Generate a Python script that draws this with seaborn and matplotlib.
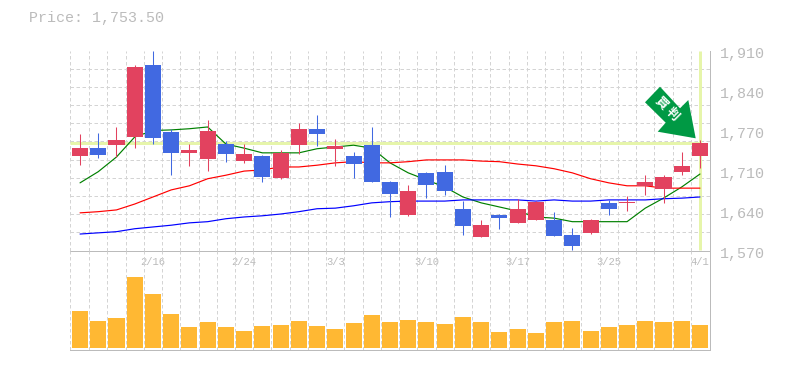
"""Stock candlestick chart with moving averages and a volume panel."""

import numpy as np
import matplotlib
matplotlib.use("Agg")
import matplotlib.pyplot as plt
from matplotlib.patches import Polygon
from matplotlib.transforms import ScaledTranslation
import seaborn as sns

# ── Data ──────────────────────────────────────────────────────────────────────

last_price = 1753.5

opens = [1731, 1744, 1750, 1763, 1885, 1772, 1736, 1726, 1751, 1722, 1731, 1693,
         1750, 1777, 1743, 1731, 1750, 1687, 1631, 1702, 1704, 1641, 1593, 1630,
         1617, 1622, 1622, 1596, 1600, 1651, 1651, 1680, 1675, 1704, 1731]
highs = [1768, 1770, 1780, 1885, 1909, 1777, 1751, 1792, 1756, 1751, 1732, 1741,
         1787, 1800, 1760, 1738, 1780, 1688, 1681, 1704, 1715, 1654, 1622, 1632,
         1658, 1654, 1636, 1608, 1624, 1656, 1663, 1698, 1698, 1738, 1758]
lows = [1716, 1727, 1729, 1744, 1751, 1698, 1714, 1705, 1721, 1719, 1687, 1692,
        1734, 1748, 1714, 1693, 1687, 1627, 1629, 1659, 1664, 1596, 1593, 1607,
        1617, 1622, 1595, 1571, 1598, 1630, 1637, 1664, 1651, 1698, 1710]
closes = [1744, 1733, 1758, 1882, 1761, 1736, 1741, 1773, 1734, 1734, 1695, 1736,
          1777, 1768, 1748, 1717, 1687, 1666, 1671, 1681, 1671, 1612, 1613, 1625,
          1641, 1653, 1595, 1578, 1622, 1641, 1653, 1687, 1695, 1714, 1753.5]

ma_short = [1685, 1704, 1729, 1763, 1774, 1775, 1777, 1780, 1751, 1744, 1736, 1736,
            1736, 1743, 1746, 1749, 1744, 1719, 1702, 1690, 1678, 1661, 1651, 1644,
            1637, 1627, 1625, 1619, 1619, 1619, 1619, 1642, 1659, 1678, 1700]
ma_mid = [1634, 1636, 1639, 1649, 1661, 1673, 1680, 1692, 1698, 1705, 1707, 1712,
          1712, 1715, 1719, 1721, 1719, 1719, 1721, 1724, 1724, 1724, 1722, 1721,
          1717, 1714, 1709, 1702, 1692, 1685, 1680, 1680, 1676, 1676, 1676]
ma_long = [1598, 1600, 1602, 1607, 1610, 1613, 1617, 1619, 1624, 1627, 1629, 1632,
           1636, 1641, 1642, 1646, 1651, 1653, 1654, 1654, 1654, 1656, 1656, 1656,
           1656, 1654, 1656, 1654, 1654, 1656, 1656, 1656, 1658, 1659, 1661]

volume = [111, 81, 90, 213, 162, 102, 63, 78, 63, 51, 66, 69, 81, 66, 57, 75, 99,
          78, 84, 78, 72, 93, 78, 48, 57, 45, 78, 81, 51, 63, 69, 81, 78, 81, 69]

date_labels = ["2/16", "2/24", "3/3", "3/10", "3/17", "3/25", "4/1"]
date_positions = [4, 9, 14, 19, 24, 29, 34]
price_ticks = [1910, 1842, 1774, 1706, 1638, 1570]
price_labels = ["1,910", "1,840", "1,770", "1,710", "1,640", "1,570"]
badge_text = ["買", "判"]

# ── Style ─────────────────────────────────────────────────────────────────────

W, H = 785, 370
GREY = "#bbbbbb"
GRID = "#d4d4d4"
UP = "#e2425f"
DOWN = "#4169e1"
AMBER = "#ffb833"
HILITE = "#e6f5aa"
BADGE = "#009944"
MONO = "Liberation Mono"
PX = 0.72  # one pixel in points at dpi 100
DASH = (0, (3.5, 2.5))

sns.set_theme(style="white")
plt.rcParams["font.family"] = [MONO, "Noto Sans CJK JP", "DejaVu Sans"]


def _axes_box(left, top, right, bottom):
    return [left / W, 1 - bottom / H, (right - left) / W, (bottom - top) / H]


def _fig_xy(x, y):
    return x / W, 1 - y / H


days = np.arange(len(closes))
xlim = (-0.55, 34.55)
col_edges = np.arange(0.5, 34.5, 1.0)

fig = plt.figure(figsize=(W / 100, H / 100), dpi=100, facecolor="white")
ax = fig.add_axes(_axes_box(70, 50.5, 710, 250.5))
ax_vol = fig.add_axes(_axes_box(70, 250.5, 710, 349.5))

# ── Price panel ───────────────────────────────────────────────────────────────

ax.hlines(last_price, xlim[0], days[-1], color=HILITE, lw=3 * PX, zorder=1)
ax.vlines(days[-1], 1571, 1910, color=HILITE, lw=3 * PX, zorder=1)

for series, color in [(ma_short, "#008000"), (ma_mid, "#ff0000"), (ma_long, "#0000ff")]:
    sns.lineplot(x=days, y=series, color=color, lw=0.85, ax=ax, zorder=2, errorbar=None)

o, h, l, c = map(np.array, (opens, highs, lows, closes))
colors = [UP if up else DOWN for up in c >= o]
ax.vlines(days, l, h, colors=colors, lw=0.75, zorder=3)
ax.bar(days, np.maximum(np.abs(c - o), 1.7), bottom=np.minimum(o, c), width=0.88,
       color=colors, linewidth=0, zorder=4, antialiased=False)

ax.set_xlim(*xlim)
ax.set_ylim(1570, 1910)
ax.set_xticks(date_positions, date_labels, color=GREY, fontsize=10.5 * PX)
ax.set_xticks(np.r_[xlim[0], col_edges], minor=True)
ax.set_yticks(price_ticks, price_labels, color=GREY, fontsize=15 * PX)
ax.set_yticks(np.linspace(1570, 1910, 12), minor=True)
ax.yaxis.tick_right()
ax.tick_params(which="both", length=0)
ax.tick_params(axis="x", which="major", pad=4.5)
ax.tick_params(axis="y", which="major", pad=7)
ax.grid(False)
ax.grid(which="minor", color=GRID, lw=PX, linestyle=DASH)
ax.set_axisbelow(True)

# the price labels sit a little below their grid position
shift = ScaledTranslation(0, -2 / 100, fig.dpi_scale_trans)
for lab in ax.get_yticklabels():
    lab.set_transform(lab.get_transform() + shift)

for side in ("top", "left"):
    ax.spines[side].set_visible(False)
for side in ("bottom", "right"):
    ax.spines[side].set_color(GREY)
    ax.spines[side].set_linewidth(PX)

# ── Volume panel ──────────────────────────────────────────────────────────────

sns.barplot(x=days, y=volume, native_scale=True, width=0.88, color=AMBER, saturation=1,
            linewidth=0, ax=ax_vol, errorbar=None, zorder=3, antialiased=False)
ax_vol.set_xlim(*xlim)
ax_vol.set_ylim(-6, 291)
ax_vol.set_xticks([])
ax_vol.set_yticks([])
ax_vol.set_xticks(np.r_[xlim[0], col_edges], minor=True)
ax_vol.tick_params(which="both", length=0)
ax_vol.set_xlabel("")
ax_vol.set_ylabel("")
ax_vol.grid(False)
ax_vol.grid(which="minor", axis="x", color=GRID, lw=PX, linestyle=DASH)
ax_vol.set_axisbelow(True)
ax_vol.patch.set_alpha(0)
for side in ("top", "left"):
    ax_vol.spines[side].set_visible(False)
for side in ("bottom", "right"):
    ax_vol.spines[side].set_color(GREY)
    ax_vol.spines[side].set_linewidth(PX)

# ── Badge and header ──────────────────────────────────────────────────────────

arrow_px = [(660, 86.7), (645, 102.3), (665.7, 122.7), (657.7, 131.7),
            (695.7, 138.3), (688.3, 100), (680, 108.3)]
fig.add_artist(Polygon([_fig_xy(*p) for p in arrow_px], closed=True, facecolor=BADGE,
                       edgecolor="none", transform=fig.transFigure, zorder=5))
for ch, (px, py) in zip(badge_text, [(661.5, 103), (672, 114.5)]):
    fx, fy = _fig_xy(px, py)
    fig.text(fx, fy, ch, color="white", fontsize=9, fontweight="bold", rotation=-45,
             ha="center", va="center", family="Noto Sans CJK JP", zorder=6)

fx, fy = _fig_xy(29, 18)
fig.text(fx, fy, f"Price: {last_price:,.2f}", color=GREY, fontsize=15 * PX,
         ha="left", va="center")

fig.savefig("out.png", dpi=100)
